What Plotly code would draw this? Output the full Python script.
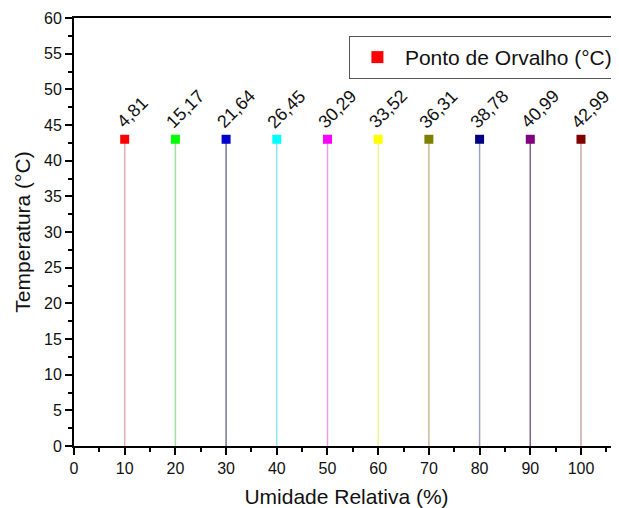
import plotly.graph_objects as go

umidade = [10, 20, 30, 40, 50, 60, 70, 80, 90, 100]
temperatura = [43, 43, 43, 43, 43, 43, 43, 43, 43, 43]
orvalho_labels = ["4,81", "15,17", "21,64", "26,45", "30,29", "33,52", "36,31", "38,78", "40,99", "42,99"]
cores = ["#ff0000", "#00ff00", "#0000cc", "#00ffff", "#ff00ff", "#ffff00", "#808000", "#000080", "#800080", "#800000"]
cores_linha = ["rgba(200,120,120,0.6)", "rgba(120,210,120,0.7)", "rgba(60,60,110,0.7)", "rgba(100,220,230,0.7)",
               "rgba(220,120,220,0.7)", "rgba(240,240,120,0.8)", "rgba(170,160,110,0.7)", "rgba(120,120,170,0.7)",
               "rgba(90,60,100,0.8)", "rgba(180,130,130,0.7)"]

fig = go.Figure()
for i, (x, y) in enumerate(zip(umidade, temperatura)):
    fig.add_trace(go.Scatter(x=[x, x], y=[0, y], mode="lines",
                             line=dict(color=cores_linha[i], width=1.5),
                             showlegend=False, hoverinfo="skip"))
for i, (x, y) in enumerate(zip(umidade, temperatura)):
    fig.add_trace(go.Scatter(x=[x], y=[y], mode="markers",
                             marker=dict(symbol="square", size=9, color=cores[i]),
                             name="Ponto de Orvalho (°C)", showlegend=(i == 0)))
    extra = len(orvalho_labels[i]) - 4
    fig.add_annotation(x=x, y=y, text=orvalho_labels[i], showarrow=False,
                       textangle=-45, xanchor="center", yanchor="middle",
                       xshift=8 + 2 * extra, yshift=27 + 3 * extra,
                       font=dict(family="Liberation Sans, Arial", size=18, color="#111"))

fig.update_layout(
    width=611, height=500,
    margin=dict(l=66, r=0, t=10, b=62),
    plot_bgcolor="white", paper_bgcolor="white",
    font=dict(family="Liberation Sans, Arial", size=16, color="#111"),
    legend=dict(x=0.998, y=0.958, xanchor="right", yanchor="top",
                bordercolor="#555", borderwidth=1, bgcolor="white",
                font=dict(size=21), itemsizing="constant", itemwidth=45,
                tracegroupgap=0),
    xaxis=dict(range=[0, 107.5], tickvals=[0, 10, 20, 30, 40, 50, 60, 70, 80, 90, 100],
               ticks="outside", ticklen=7, tickwidth=1.5, tickcolor="black",
               minor=dict(dtick=5, ticks="outside", ticklen=4, tickwidth=1.5, tickcolor="black"),
               showline=True, linecolor="black", linewidth=2, mirror=True,
               showgrid=False, zeroline=False,
               title=dict(text="Umidade Relativa (%)", font=dict(size=21), standoff=14)),
    yaxis=dict(range=[0, 60], dtick=5,
               ticks="outside", ticklen=7, tickwidth=1.5, tickcolor="black",
               minor=dict(dtick=2.5, ticks="outside", ticklen=4, tickwidth=1.5, tickcolor="black"),
               showline=True, linecolor="black", linewidth=2,
               showgrid=False, zeroline=False,
               title=dict(text="Temperatura (°C)", font=dict(size=21), standoff=8)),
)
fig.write_html("out.html")
